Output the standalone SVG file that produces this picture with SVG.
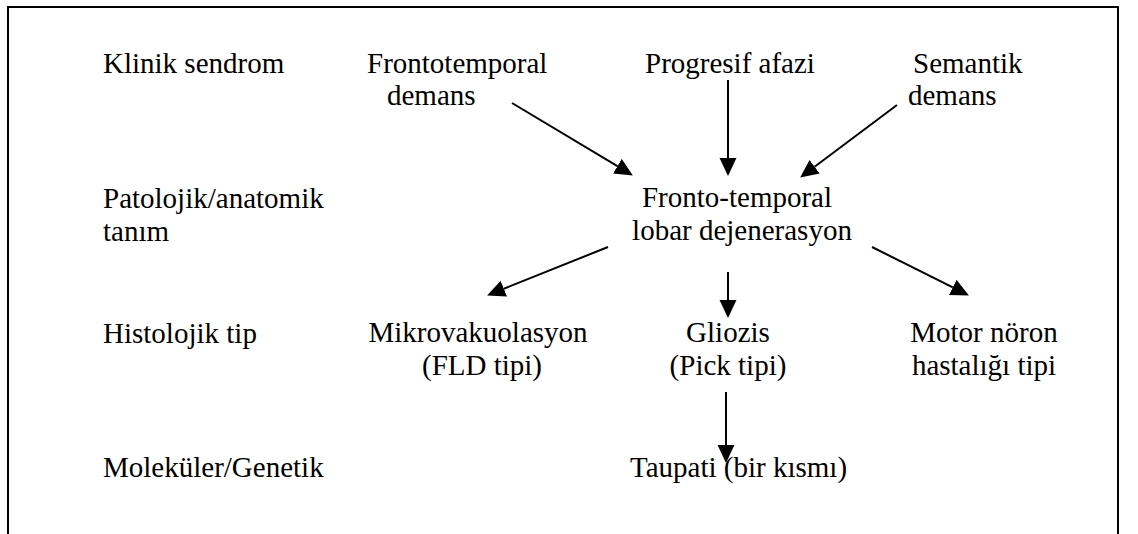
<svg xmlns="http://www.w3.org/2000/svg" width="1138" height="534" viewBox="0 0 1138 534">
<defs>
<style>
.t{font-family:'Liberation Serif','Times New Roman',serif;font-size:29px;fill:#000}
.c{stroke:#000;stroke-width:2;fill:none}
</style>
<marker id="ah" markerUnits="userSpaceOnUse" markerWidth="18" markerHeight="18" refX="0" refY="8" orient="auto" viewBox="0 0 17 16">
<path d="M0,0 L17,8 L0,16 Z" fill="#000"/>
</marker>
</defs>
<rect width="1138" height="534" fill="#fff"/>
<path id="frame" d="M8,534 V7 H1118 V534" fill="none" stroke="#000" stroke-width="2"/>
<g class="t">
<g id="levels">
<text x="103" y="73">Klinik sendrom</text>
<text x="103" y="208">Patolojik/anatomik</text>
<text x="103" y="241">tanım</text>
<text x="103" y="343">Histolojik tip</text>
<text x="103" y="477">Moleküler/Genetik</text>
</g>
<g id="ftd"><text x="367" y="73">Frontotemporal</text><text x="387" y="105">demans</text></g>
<g id="pa"><text x="645" y="73">Progresif afazi</text></g>
<g id="sd"><text x="913" y="73">Semantik</text><text x="908" y="105">demans</text></g>
<g id="ftld"><text x="737" y="207" text-anchor="middle">Fronto-temporal</text><text x="742" y="240" text-anchor="middle">lobar dejenerasyon</text></g>
<g id="mv"><text x="478" y="342" text-anchor="middle">Mikrovakuolasyon</text><text x="482" y="375" text-anchor="middle">(FLD tipi)</text></g>
<g id="gl"><text x="728" y="342" text-anchor="middle">Gliozis</text><text x="728" y="375" text-anchor="middle">(Pick tipi)</text></g>
<g id="mn"><text x="984" y="342" text-anchor="middle">Motor nöron</text><text x="984" y="375" text-anchor="middle">hastalığı tipi</text></g>
<g id="tau"><text x="630" y="477">Taupati (bir kısmı)</text></g>
</g>
<g id="connectors">
<line class="c" x1="512" y1="103" x2="617.4" y2="166.2" marker-end="url(#ah)"/>
<line class="c" x1="728" y1="80" x2="728" y2="158" marker-end="url(#ah)"/>
<line class="c" x1="897" y1="105" x2="814.6" y2="166.8" marker-end="url(#ah)"/>
<line class="c" x1="608" y1="247" x2="503.8" y2="288.7" marker-end="url(#ah)"/>
<line class="c" x1="728" y1="272" x2="728" y2="300" marker-end="url(#ah)"/>
<line class="c" x1="872" y1="247" x2="952.8" y2="287.4" marker-end="url(#ah)"/>
<line class="c" x1="726" y1="392" x2="726" y2="445" marker-end="url(#ah)"/>
</g>
</svg>
